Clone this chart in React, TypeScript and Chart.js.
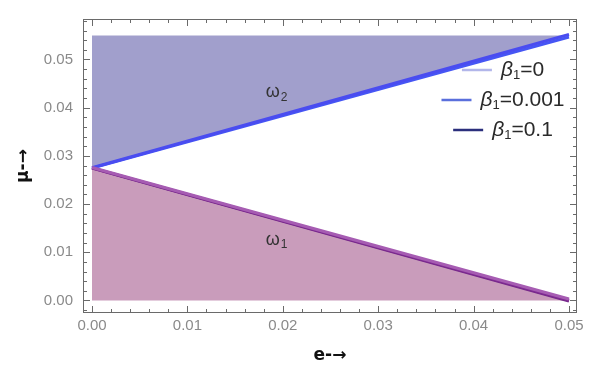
import React, { useEffect, useRef } from "react";
import { Chart, registerables } from "chart.js";
Chart.register(...registerables);

// e values (x) at both ends of every boundary
const eRange = [0, 0.05];
// region boundaries
const omega2Top = [0.055, 0.055];
const omega2Edge = [0.0275, 0.055];
const omega1Edge = [0.0275, 0.0];
// upper boundary lines for each beta1
const upperBeta0 = [0.0275, 0.05495];
const upperBeta001 = [0.02745, 0.05465];
const upperBeta01 = [0.02755, 0.0552];
// lower boundary lines for each beta1
const lowerBeta0 = [0.0276, 0.0003];
const lowerBeta001 = [0.0275, 0.00005];
const lowerBeta01 = [0.02745, -0.0001];
// ticks
const xTicks = [0, 0.01, 0.02, 0.03, 0.04, 0.05];
const yTicks = [0, 0.01, 0.02, 0.03, 0.04, 0.05];
// legend
const legendValues = ["0", "0.001", "0.1"];
const legendColors = ["#b2b6ea", "#5a6fdc", "#2b2f7c"];
// region labels
const regionLabels = [
  { text: "ω", sub: "2", x: 0.0193, y: 0.0432 },
  { text: "ω", sub: "1", x: 0.0193, y: 0.0126 },
];

const framePlugin = {
  id: "framePlugin",
  afterDraw(chart: any) {
    const { ctx, chartArea: a, scales } = chart;
    const xs = scales.x;
    const ys = scales.y;
    ctx.save();
    ctx.strokeStyle = "#6a6a6a";
    ctx.lineWidth = 1;
    ctx.strokeRect(Math.round(a.left) + 0.5, Math.round(a.top) + 0.5, Math.round(a.right - a.left) - 1, Math.round(a.bottom - a.top) - 1);
    const tick = (v: number, len: number, horiz: boolean) => {
      if (horiz) {
        const px = Math.round(xs.getPixelForValue(v)) + 0.5;
        if (px < a.left || px > a.right) return;
        ctx.beginPath();
        ctx.moveTo(px, a.bottom);
        ctx.lineTo(px, a.bottom - len);
        ctx.moveTo(px, a.top);
        ctx.lineTo(px, a.top + len);
        ctx.stroke();
      } else {
        const py = Math.round(ys.getPixelForValue(v)) + 0.5;
        if (py < a.top || py > a.bottom) return;
        ctx.beginPath();
        ctx.moveTo(a.left, py);
        ctx.lineTo(a.left + len, py);
        ctx.moveTo(a.right, py);
        ctx.lineTo(a.right - len, py);
        ctx.stroke();
      }
    };
    for (let i = -5; i <= 30; i++) {
      const v = i * 0.002;
      const major = i % 5 === 0;
      tick(v, major ? 7 : 4, true);
      tick(v, major ? 7 : 4, false);
    }
    // region labels
    ctx.fillStyle = "#333";
    ctx.textBaseline = "middle";
    regionLabels.forEach((r) => {
      const px = xs.getPixelForValue(r.x);
      const py = ys.getPixelForValue(r.y);
      ctx.font = "18px 'Liberation Sans'";
      const w = ctx.measureText(r.text).width;
      ctx.font = "12px 'Liberation Sans'";
      const ws = ctx.measureText(r.sub).width;
      const x0 = px - (w + ws) / 2;
      ctx.font = "18px 'Liberation Sans'";
      ctx.textAlign = "left";
      ctx.fillText(r.text, x0, py);
      ctx.font = "12px 'Liberation Sans'";
      ctx.fillText(r.sub, x0 + w + 1, py + 5);
    });
    // legend
    const cx = a.right - 74;
    legendValues.forEach((val, i) => {
      const y = 70 + i * 30;
      ctx.font = "italic 21px 'Liberation Sans'";
      const wb = ctx.measureText("β").width;
      ctx.font = "13px 'Liberation Sans'";
      const w1 = ctx.measureText("1").width;
      ctx.font = "21px 'Liberation Sans'";
      const wr = ctx.measureText("=" + val).width;
      const total = 30 + 9 + wb + w1 + wr;
      let x = cx - total / 2;
      ctx.strokeStyle = legendColors[i];
      ctx.lineWidth = 2.5;
      ctx.beginPath();
      ctx.moveTo(x, y);
      ctx.lineTo(x + 30, y);
      ctx.stroke();
      x += 39;
      ctx.fillStyle = "#2a2a2a";
      ctx.textAlign = "left";
      ctx.font = "italic 21px 'Liberation Sans'";
      ctx.fillText("β", x, y);
      x += wb;
      ctx.font = "13px 'Liberation Sans'";
      ctx.fillText("1", x, y + 5);
      x += w1;
      ctx.font = "21px 'Liberation Sans'";
      ctx.fillText("=" + val, x, y);
    });
    ctx.restore();
  },
};

export default function App() {
  const ref = useRef<HTMLCanvasElement>(null);
  useEffect(() => {
    document.body.style.margin = "0";
    const pts = (ys: number[]) => eRange.map((x, i) => ({ x, y: ys[i] }));
    const hidden = "rgba(0,0,0,0)";
    const line = (label: string, ys: number[], color: string, w: number) => ({
      label,
      data: pts(ys),
      borderColor: color,
      borderWidth: w,
      pointRadius: 0,
      fill: false,
      order: 1,
    });
    const chart = new Chart(ref.current!, {
      type: "line",
      data: {
        datasets: [
          { label: "omega2-top", data: pts(omega2Top), borderColor: hidden, borderWidth: 0, pointRadius: 0, fill: 1, backgroundColor: "#a19fcc", order: 10 } as any,
          { label: "omega2-edge", data: pts(omega2Edge), borderColor: hidden, borderWidth: 0, pointRadius: 0, fill: false, order: 10 },
          { label: "omega1-edge", data: pts(omega1Edge), borderColor: hidden, borderWidth: 0, pointRadius: 0, fill: "origin", backgroundColor: "#c99cbb", order: 10 },
          line("β1=0 lower", lowerBeta0, "#a65cb2", 3),
          line("β1=0.001 lower", lowerBeta001, "#7e2a92", 3),
          line("β1=0.1 lower", lowerBeta01, "#742888", 3),
          line("β1=0.1 upper", upperBeta01, "#4a4cf0", 3),
          line("β1=0.001 upper", upperBeta001, "#4656f4", 3),
          line("β1=0 upper", upperBeta0, "#8a94f6", 2),
        ],
      },
      options: {
        animation: false,
        responsive: true,
        maintainAspectRatio: false,
        layout: { padding: { left: 0, top: 8, right: 22, bottom: 0 } },
        plugins: { legend: { display: false }, tooltip: { enabled: false } },
        scales: {
          x: {
            type: "linear",
            min: -0.000943,
            max: 0.05084,
            afterBuildTicks: (s: any) => {
              s.ticks = xTicks.map((v) => ({ value: v }));
            },
            afterFit: (s: any) => {
              s.height = 60;
            },
            ticks: {
              callback: (v: any) => Number(v).toFixed(2),
              font: { size: 15, family: "'Liberation Sans'" },
              color: "#8a8a8a",
              padding: 4,
              maxRotation: 0,
              autoSkip: false,
            },
            grid: { display: false, drawTicks: false },
            border: { display: false },
            title: {
              display: true,
              text: "e-→",
              font: { size: 17, weight: "bold", family: "'DejaVu Sans'" },
              color: "#111",
              padding: { top: 0, bottom: 7 },
            },
          },
          y: {
            type: "linear",
            min: -0.0026,
            max: 0.0584,
            afterBuildTicks: (s: any) => {
              s.ticks = yTicks.map((v) => ({ value: v }));
            },
            afterFit: (s: any) => {
              s.width = 83;
            },
            ticks: {
              callback: (v: any) => Number(v).toFixed(2),
              font: { size: 15, family: "'Liberation Sans'" },
              color: "#8a8a8a",
              padding: 10,
              autoSkip: false,
            },
            grid: { display: false, drawTicks: false },
            border: { display: false },
            title: {
              display: true,
              text: "μ-→",
              font: { size: 17, weight: "bold", family: "'DejaVu Sans'" },
              color: "#111",
              padding: { top: 13, bottom: 0 },
            },
          },
        },
      },
      plugins: [framePlugin],
    });
    return () => chart.destroy();
  }, []);
  return (
    <div style={{ width: 599, height: 373, position: "relative" }}>
      <canvas ref={ref} />
    </div>
  );
}
